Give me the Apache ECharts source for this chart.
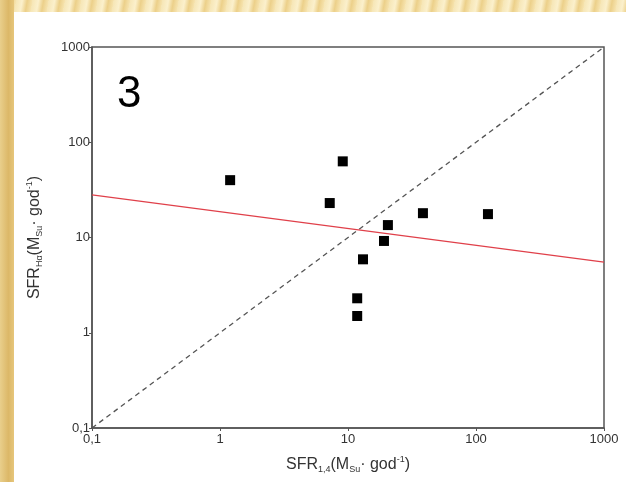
<!DOCTYPE html>
<html>
<head>
<meta charset="utf-8">
<script src="https://cdn.jsdelivr.net/npm/echarts@6/dist/echarts.min.js"></script>
<style>
html,body{margin:0;padding:0;width:626px;height:482px;overflow:hidden;}
body{background:
  repeating-linear-gradient(100deg,#f6e6b6 0px,#fbf0cc 6px,#ecd08a 11px,#f6e3ae 16px);}
#left{position:absolute;left:0;top:0;width:14px;height:482px;
  background:linear-gradient(90deg,#e9cf8c,#dcb868 60%,#e6c67c);}
#chart{position:absolute;left:14px;top:12px;width:612px;height:470px;background:#fff;}
</style>
</head>
<body>
<div id="left"></div>
<div id="chart"></div>
<script>
// Data
const xVals = [1.2, 9.1, 7.2, 20.5, 19.1, 38.5, 124, 13.1, 11.8, 11.8];
const yVals = [40, 63, 23, 13.5, 9.2, 18, 17.6, 5.9, 2.3, 1.5];
const fitX = [0.1, 1000];
const fitY = [28, 5.5];
const identX = [0.1, 1000];
const identY = [0.1, 1000];
const axisMin = 0.1, axisMax = 1000;
const panelLabel = '3';

const chart = echarts.init(document.getElementById('chart'));
const fmt = v => v < 0.5 ? '0,1' : String(Math.round(v));
const labelFont = {color:'#333', fontSize:13, fontFamily:'Liberation Sans, Arial, sans-serif'};
const richTitle = {
  m:{fontSize:16, color:'#333', fontFamily:'Liberation Sans, Arial', lineHeight:22},
  sub:{fontSize:9, color:'#333', fontFamily:'Liberation Sans, Arial', lineHeight:22, padding:[10,0,0,0]},
  sup:{fontSize:9, color:'#333', fontFamily:'Liberation Sans, Arial', lineHeight:22, padding:[0,0,10,0]}
};
chart.setOption({
  animation:false,
  grid:{left:78, top:35, right:22, bottom:54, show:true, borderColor:'#555', borderWidth:1.5},
  xAxis:{type:'log', logBase:10, min:axisMin, max:axisMax,
    axisLine:{lineStyle:{color:'#555', width:1.5}},
    axisTick:{show:true, length:3, lineStyle:{color:'#555'}},
    minorTick:{show:false}, splitLine:{show:false},
    axisLabel:Object.assign({formatter:fmt, margin:5}, labelFont),
    name:'{m|SFR}{sub|1,4}{m|(M}{sub|Su}{m|· god}{sup|-1}{m|)}',
    nameLocation:'middle', nameGap:26,
    nameTextStyle:{rich:richTitle}
  },
  yAxis:{type:'log', logBase:10, min:axisMin, max:axisMax,
    axisLine:{lineStyle:{color:'#555', width:1.5}},
    axisTick:{show:true, length:3, lineStyle:{color:'#555'}},
    minorTick:{show:false}, splitLine:{show:false},
    axisLabel:Object.assign({formatter:fmt, margin:2}, labelFont),
    name:'{m|SFR}{sub|Hα}{m|(M}{sub|Su}{m|· god}{sup|-1}{m|)}',
    nameLocation:'middle', nameGap:46, nameRotate:90,
    nameTextStyle:{rich:richTitle}
  },
  graphic:[{type:'text', left:103, top:61, style:{text:panelLabel, fontSize:44, fill:'#000', fontFamily:'Liberation Sans, Arial'}}],
  series:[
    {type:'line', data:identX.map((x,i)=>[x,identY[i]]), symbol:'none',
      lineStyle:{color:'#555', width:1.3, type:[5,4]}, z:1},
    {type:'line', data:fitX.map((x,i)=>[x,fitY[i]]), symbol:'none',
      lineStyle:{color:'#e0404a', width:1.3}, z:2},
    {type:'scatter', data:xVals.map((x,i)=>[x,yVals[i]]), symbol:'rect', symbolSize:10,
      itemStyle:{color:'#000', opacity:1}, z:3}
  ]
});
</script>
</body>
</html>
